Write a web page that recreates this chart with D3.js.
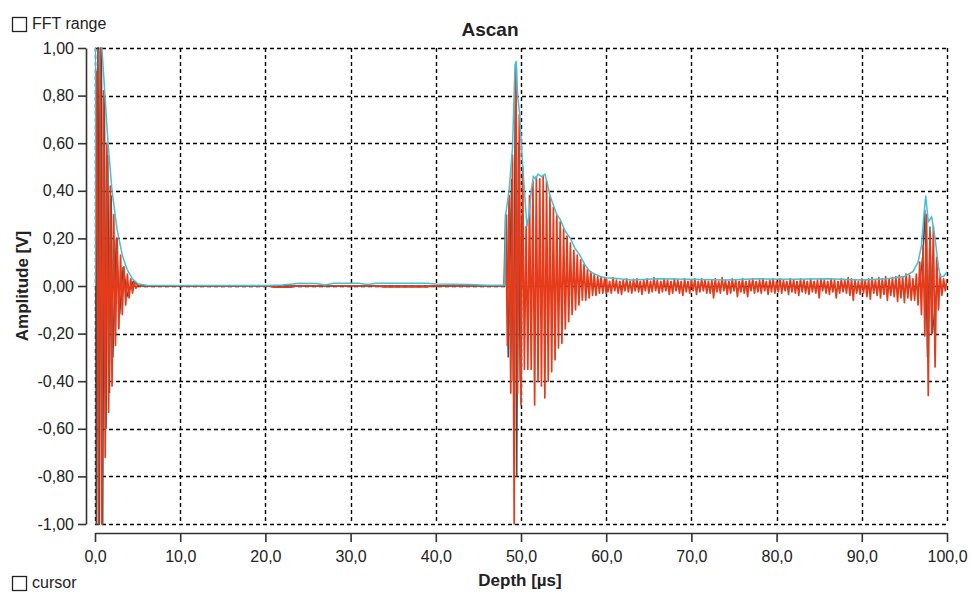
<!DOCTYPE html>
<html>
<head>
<meta charset="utf-8">
<script src="https://cdn.jsdelivr.net/npm/d3@7"></script>
<style>
  body { margin: 0; background: #fff; }
  svg text { font-family: "Liberation Sans", Arial, sans-serif; fill: #222; }
</style>
</head>
<body>
<svg id="chart" width="970" height="594"></svg>
<script>
// axis ticks
const xTicks = [0, 10, 20, 30, 40, 50, 60, 70, 80, 90, 100];
const yTicks = [-1, -0.8, -0.6, -0.4, -0.2, 0, 0.2, 0.4, 0.6, 0.8, 1];

// red A-scan, sampled every redStep µs
const redStep = 0.2;
const echo1Start = 0;
const echo1 = [0, 0.9, -1.0, 1.0, -1.0, 0.82, -0.72, 0.6, -0.53, 0.42, -0.42, 0.3, -0.25,
  0.2, -0.18, 0.13, -0.12, 0.08, -0.08, 0.05, -0.05, 0.03, -0.03, 0.015, -0.01, 0.005, 0];
const echo2Start = 48.2;
const echo2 = [0.3, -0.25, 0.38, -0.45, 0.55, -1.0, 0.92, -0.45, 0.72, -0.5, 0.5, -0.35,
  0.25, -0.35, 0.38, -0.35, 0.44, -0.5, 0.46, -0.4, 0.45, -0.42, 0.46, -0.47, 0.44, -0.4,
  0.38, -0.36, 0.33, -0.31, 0.3, -0.26, 0.27, -0.24, 0.24, -0.18, 0.21, -0.15, 0.18, -0.12,
  0.15, -0.1, 0.13, -0.08, 0.11, -0.06, 0.09, -0.06, 0.07, -0.05, 0.06, -0.04, 0.05, -0.04,
  0.04, -0.03, 0.04, -0.03, 0.03, -0.03];
const echo3Start = 96.0;
const echo3 = [0.03, -0.06, 0.05, -0.08, 0.1, -0.12, 0.17, -0.21, 0.3, -0.46, 0.22, -0.2,
  0.25, -0.34, 0.12, -0.1, 0.05, -0.04, 0.03, -0.02, 0.03];
// noise between the back wall echo and the last echo
const noiseStart = 60.0;
const noise = [
  0.03, -0.025, 0.02, -0.03, 0.035, -0.02, 0.025, -0.03, 0.02, -0.035,
  0.025, -0.02, 0.03, -0.025, 0.02, -0.03, 0.028, -0.02, 0.03, -0.025,
  0.02, -0.035, 0.025, -0.02, 0.03, -0.03, 0.02, -0.025, 0.035, -0.02,
  0.025, -0.03, 0.02, -0.025, 0.03, -0.02, 0.025, -0.035, 0.02, -0.03,
  0.03, -0.02, 0.025, -0.03, 0.02, -0.04, 0.03, -0.025, 0.02, -0.03,
  0.025, -0.02, 0.03, -0.035, 0.02, -0.025, 0.03, -0.02, 0.025, -0.03,
  0.02, -0.03, 0.025, -0.05, 0.03, -0.025, 0.02, -0.03, 0.035, -0.02,
  0.025, -0.035, 0.02, -0.03, 0.03, -0.02, 0.025, -0.045, 0.02, -0.025,
  0.03, -0.03, 0.02, -0.045, 0.025, -0.02, 0.03, -0.03, 0.02, -0.025,
  0.025, -0.03, 0.03, -0.02, 0.02, -0.035, 0.025, -0.025, 0.03, -0.03,
  0.02, -0.025, 0.03, -0.03, 0.025, -0.02, 0.02, -0.035, 0.03, -0.025,
  0.025, -0.03, 0.02, -0.04, 0.03, -0.025, 0.025, -0.03, 0.02, -0.035,
  0.03, -0.025, 0.02, -0.03, 0.025, -0.05, 0.03, -0.02, 0.025, -0.03,
  0.02, -0.035, 0.03, -0.025, 0.025, -0.05, 0.02, -0.03, 0.03, -0.025,
  0.025, -0.03, 0.035, -0.04, 0.03, -0.06, 0.025, -0.03, 0.02, -0.035,
  0.03, -0.03, 0.025, -0.045, 0.03, -0.055, 0.035, -0.03, 0.025, -0.04,
  0.035, -0.05, 0.03, -0.035, 0.04, -0.06, 0.03, -0.04, 0.035, -0.045,
  0.04, -0.065, 0.045, -0.05, 0.04, -0.07, 0.05, -0.05, 0.045, -0.06];
// quiet part between first echo and back wall
const quietT = [5.2, 20.5, 21, 23, 23.5, 33, 34, 39, 39.5, 48.0];
const quietV = [0, 0, -0.005, -0.005, 0, 0, -0.004, -0.004, 0, 0];

// envelope (cyan)
const envT = [0, 0.05, 0.7, 0.9, 1.17, 1.53, 2.0, 2.58, 3.2, 3.76, 4.4, 5.0, 6, 20, 22, 24, 26, 27,
  28, 31, 32, 33, 39, 40, 44, 46, 48.1, 48.2, 48.6, 49.0, 49.3, 49.45, 49.6, 49.85, 50.1, 50.4,
  50.7, 50.95, 51.2, 51.45, 51.7, 52.0, 52.4, 52.8, 53.1, 53.4, 53.8, 54.2, 54.6, 55.2, 55.8,
  56.3, 56.9, 57.5, 58.1, 58.7, 59.3, 60, 61.6, 63, 66, 70, 74, 78, 82, 86, 90, 93, 95, 96.0,
  96.6, 97.0, 97.3, 97.5, 97.8, 98.2, 98.6, 99.0, 99.2, 99.6, 100];
const envV = [0, 1.05, 1.05, 0.95, 0.8, 0.6, 0.4, 0.24, 0.13, 0.07, 0.03, 0.01, 0.003, 0.002,
  0.004, 0.012, 0.01, 0.004, 0.012, 0.012, 0.006, 0.012, 0.012, 0.008, 0.006, 0.003, 0.003,
  0.3, 0.4, 0.58, 0.93, 0.945, 0.8, 0.72, 0.56, 0.4, 0.25, 0.3, 0.4, 0.46, 0.45, 0.47, 0.46,
  0.47, 0.43, 0.38, 0.34, 0.3, 0.28, 0.23, 0.2, 0.16, 0.13, 0.09, 0.06, 0.05, 0.04, 0.035,
  0.03, 0.025, 0.03, 0.028, 0.025, 0.03, 0.028, 0.03, 0.025, 0.03, 0.04, 0.06, 0.1, 0.17,
  0.3, 0.38, 0.27, 0.29, 0.2, 0.08, 0.04, 0.04, 0.06];

// raw signal (dark gray), mostly hidden behind the red one
const grayT = [0, 0.05, 0.15, 0.35, 0.5, 0.75, 0.9, 1.1, 1.3, 1.5, 1.7, 1.9, 2.1, 2.5, 2.9, 3.3,
  3.8, 4.5, 5.2, 48.1, 48.3, 48.5, 48.9, 49.1, 49.35, 49.5, 49.7, 49.9, 50.1, 50.3];
const grayV = [0, 0.92, -1.05, 1.05, -1.05, 1.05, -1.05, 0.8, -0.6, 0.55, -0.45, 0.38, -0.3,
  0.2, -0.12, 0.08, -0.04, 0.02, 0, 0, 0.3, -0.3, 0.45, -0.4, 0.9, -0.8, 0.6, -0.4, 0.3, 0];
const gray3T = [96.8, 97.2, 97.4, 97.7, 98.0, 98.3, 98.8];
const gray3V = [0, 0.15, 0.32, -0.3, 0.25, -0.2, 0];

const svg = d3.select("#chart");
const plotLeft = 95, plotRight = 947, plotTop = 48, plotBottom = 524;

const x = d3.scaleLinear().domain([0, 100]).range([plotLeft, plotRight]);
const y = d3.scaleLinear().domain([-1, 1]).range([plotBottom, plotTop]);

const fmtY = d => (d < 0 ? "-" : "") + Math.abs(d).toFixed(2).replace(".", ",");
const fmtX = d => d.toFixed(1).replace(".", ",");

// grid
const grid = svg.append("g").attr("stroke", "#000").attr("stroke-width", 1.4)
  .attr("stroke-dasharray", "4,3");
grid.selectAll(".gx").data(xTicks).enter().append("line")
  .attr("x1", d => Math.round(x(d)) + 0.5).attr("x2", d => Math.round(x(d)) + 0.5)
  .attr("y1", plotTop).attr("y2", plotBottom);
grid.selectAll(".gy").data(yTicks).enter().append("line")
  .attr("y1", d => Math.round(y(d)) + 0.5).attr("y2", d => Math.round(y(d)) + 0.5)
  .attr("x1", plotLeft).attr("x2", plotRight);

// clip
svg.append("clipPath").attr("id", "plotClip").append("rect")
  .attr("x", plotLeft).attr("y", plotTop - 1)
  .attr("width", plotRight - plotLeft).attr("height", plotBottom - plotTop + 2);

const plot = svg.append("g").attr("clip-path", "url(#plotClip)");
const line = d3.line().x(d => x(d[0])).y(d => y(d[1]));

const sampled = (start, step, vals) => vals.map((v, i) => [start + i * step, v]);
const paired = (ts, vs) => ts.map((t, i) => [t, vs[i]]);

// gray raw signal
plot.append("path").attr("d", line(paired(grayT, grayV)))
  .attr("fill", "none").attr("stroke", "#4a4a4a").attr("stroke-width", 1.5);
plot.append("path").attr("d", line(paired(gray3T, gray3V)))
  .attr("fill", "none").attr("stroke", "#4a4a4a").attr("stroke-width", 1.3);

// red signal
const redPts = [].concat(
  sampled(echo1Start, redStep, echo1),
  paired(quietT, quietV),
  sampled(echo2Start, redStep, echo2),
  sampled(noiseStart, redStep, noise),
  sampled(echo3Start, redStep, echo3)
);
plot.append("path").attr("d", line(redPts))
  .attr("fill", "none").attr("stroke", "#e63b1a").attr("stroke-width", 1.7)
  .attr("stroke-linejoin", "round");

// envelope
plot.append("path").attr("d", line(paired(envT, envV)))
  .attr("fill", "none").attr("stroke", "#45bfd6").attr("stroke-width", 1.5);

// axes
const yAxis = svg.append("g").attr("transform", "translate(86,0)")
  .call(d3.axisLeft(y).tickValues(yTicks).tickFormat(fmtY).tickSize(8).tickSizeOuter(0).tickPadding(4));
const xAxis = svg.append("g").attr("transform", "translate(0,533)")
  .call(d3.axisBottom(x).tickValues(xTicks).tickFormat(fmtX).tickSize(9).tickSizeOuter(0).tickPadding(9));
[yAxis, xAxis].forEach(a => {
  a.selectAll("path, line").attr("stroke", "#333").attr("stroke-width", 1.6);
  a.selectAll("text").attr("font-size", 16).attr("fill", "#333")
    .attr("font-family", "'Liberation Sans', Arial, sans-serif");
});

// titles
svg.append("text").attr("x", 490).attr("y", 36).attr("text-anchor", "middle")
  .attr("font-size", 19).attr("font-weight", "bold").text("Ascan");
svg.append("text").attr("x", 520).attr("y", 586).attr("text-anchor", "middle")
  .attr("font-size", 17).attr("font-weight", "bold").text("Depth [µs]");
svg.append("text").attr("transform", "translate(28,286) rotate(-90)").attr("text-anchor", "middle")
  .attr("font-size", 17).attr("font-weight", "bold").text("Amplitude [V]");

// checkboxes
const boxes = [{ label: "FFT range", y: 17 }, { label: "cursor", y: 576 }];
boxes.forEach(b => {
  svg.append("rect").attr("x", 12.5).attr("y", b.y + 0.5).attr("width", 14).attr("height", 14)
    .attr("fill", "#fff").attr("stroke", "#222").attr("stroke-width", 1.3);
  svg.append("text").attr("x", 32).attr("y", b.y + 12).attr("font-size", 16).text(b.label);
});
</script>
</body>
</html>
